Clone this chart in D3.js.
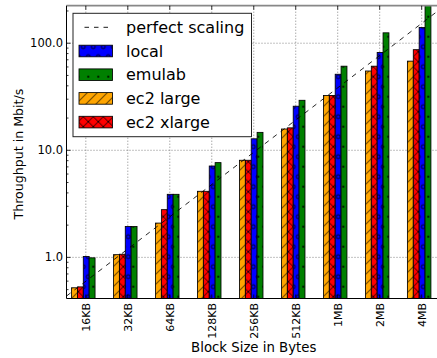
<!DOCTYPE html>
<html><head><meta charset="utf-8">
<script src="https://cdn.jsdelivr.net/npm/d3@7"></script>
<style>body{margin:0;background:#fff} svg{display:block}</style>
</head><body>
<svg id="chart" width="437" height="358"></svg>
<script>
// Throughput per block size for each environment (Mbit/s)
const categories = ["16KB","32KB","64KB","128KB","256KB","512KB","1MB","2MB","4MB"];
const ec2Large  = [0.52, 1.06, 2.09, 4.14, 8.07, 15.8, 32.5, 55.0, 68.0];
const ec2XLarge = [0.53, 1.07, 2.79, 4.14, 8.07, 16.2, 32.5, 61.0, 87.0];
const local     = [1.02, 1.94, 3.88, 7.13, 12.8, 25.8, 51.3, 82.0, 140.0];
const emulab    = [0.99, 1.94, 3.88, 7.67, 14.7, 29.3, 61.0, 125.0, 230.0];
const perfect   = [0.5, 1, 2, 4, 8, 16, 32, 64, 128];
const yTicks = [1, 10, 100];
const yTickLabels = ["1.0", "10.0", "100.0"];

const svg = d3.select("#chart");
const W = 437, H = 358;
const m = {left: 66.5, right: 441, top: 5.7, bottom: 298.5};
const FONT = "DejaVu Sans, Bitstream Vera Sans, sans-serif";

const x = d3.scaleLinear().domain([-0.46, categories.length - 1 + 0.46]).range([m.left, m.right]);
const y = d3.scaleLog().domain([0.413, 224]).range([m.bottom, m.top]);
const barW = 0.14;

// hatch patterns
const defs = svg.append("defs");
const hx = 3.3, hy = 6.7;
function linePattern(id, color, cross) {
  const p = defs.append("pattern").attr("id", id).attr("patternUnits", "userSpaceOnUse")
    .attr("width", 10).attr("height", 10).attr("patternTransform", `translate(${hx},${hy})`);
  p.append("rect").attr("width", 10).attr("height", 10).attr("fill", color);
  let d = "M-1,11 L11,-1 M-6,6 L6,-6 M4,16 L16,4";
  if (cross) d += " M-1,-1 L11,11 M-6,4 L6,16 M4,-6 L16,6";
  p.append("path").attr("d", d).attr("stroke", "#000").attr("stroke-width", 0.85).attr("fill", "none");
}
function dotPattern(id, color, r, filled) {
  const p = defs.append("pattern").attr("id", id).attr("patternUnits", "userSpaceOnUse")
    .attr("width", 10).attr("height", 20).attr("patternTransform", `translate(${hx},${hy})`);
  p.append("rect").attr("width", 10).attr("height", 20).attr("fill", color);
  [[0,0],[10,0],[0,20],[10,20],[5,10]].forEach(([cx, cy]) => {
    p.append("circle").attr("cx", cx).attr("cy", cy).attr("r", r)
      .attr("fill", filled ? "#000" : "none").attr("stroke", "#000").attr("stroke-width", filled ? 0 : 0.85);
  });
}
linePattern("h-large", "#ffa500", false);
linePattern("h-xlarge", "#ff0000", true);
dotPattern("h-local", "#0000ff", 2, false);
dotPattern("h-emulab", "#008000", 1.1, true);

defs.append("clipPath").attr("id", "plot-clip").append("rect")
  .attr("x", m.left).attr("y", m.top).attr("width", m.right - m.left).attr("height", m.bottom - m.top);

const series = [
  {name: "ec2 large",  values: ec2Large,  fill: "url(#h-large)",  off: -0.34},
  {name: "ec2 xlarge", values: ec2XLarge, fill: "url(#h-xlarge)", off: -0.20},
  {name: "local",      values: local,     fill: "url(#h-local)",  off: -0.06},
  {name: "emulab",     values: emulab,    fill: "url(#h-emulab)", off: 0.08}
];

// grid
const grid = svg.append("g").attr("stroke", "#777").attr("stroke-width", 0.9).attr("stroke-dasharray", "1,2");
categories.forEach((c, i) => {
  grid.append("line").attr("x1", x(i)).attr("x2", x(i)).attr("y1", m.top).attr("y2", m.bottom);
});
yTicks.forEach(v => {
  grid.append("line").attr("x1", m.left).attr("x2", m.right).attr("y1", y(v)).attr("y2", y(v));
});

// bars
const plot = svg.append("g").attr("clip-path", "url(#plot-clip)");
series.forEach(s => {
  plot.selectAll(null).data(s.values).join("rect")
    .attr("x", (d, i) => x(i + s.off))
    .attr("width", x(barW) - x(0))
    .attr("y", d => y(d))
    .attr("height", d => m.bottom - y(d))
    .attr("fill", s.fill)
    .attr("stroke", "#000").attr("stroke-width", 0.85);
});

// perfect scaling reference line (extended to the plot edges)
const pOff = -0.26;
const pts = perfect.map((v, i) => [i + pOff, v]);
const slope = Math.log(perfect[1] / perfect[0]);
const ext = (xi) => {
  const [x0, v0] = pts[0];
  return [xi, v0 * Math.exp(slope * (xi - x0))];
};
const linePts = [ext(x.domain()[0]), ...pts, ext(x.domain()[1])];
plot.append("path")
  .attr("d", d3.line().x(d => x(d[0])).y(d => y(d[1]))(linePts))
  .attr("fill", "none").attr("stroke", "#000").attr("stroke-width", 0.85)
  .attr("stroke-dasharray", "5,5");

// frame
svg.append("line").attr("x1", m.left).attr("x2", m.right).attr("y1", m.top).attr("y2", m.top)
  .attr("stroke", "#888").attr("stroke-width", 1.8);
svg.append("line").attr("x1", m.left).attr("x2", m.right).attr("y1", m.bottom).attr("y2", m.bottom)
  .attr("stroke", "#000").attr("stroke-width", 1);
svg.append("line").attr("x1", m.left).attr("x2", m.left).attr("y1", m.top).attr("y2", m.bottom)
  .attr("stroke", "#000").attr("stroke-width", 1);

// ticks (inside)
const ticks = svg.append("g").attr("stroke", "#000").attr("stroke-width", 0.8);
categories.forEach((c, i) => {
  ticks.append("line").attr("x1", x(i)).attr("x2", x(i)).attr("y1", m.bottom).attr("y2", m.bottom - 4);
  ticks.append("line").attr("x1", x(i)).attr("x2", x(i)).attr("y1", m.top).attr("y2", m.top + 4);
});
const [ylo, yhi] = y.domain();
for (let k = -1; k <= 3; k++) {
  for (let mm = 1; mm <= 9; mm++) {
    const v = mm * Math.pow(10, k);
    if (v < ylo || v > yhi) continue;
    const len = mm === 1 ? 4 : 2;
    ticks.append("line").attr("x1", m.left).attr("x2", m.left + len).attr("y1", y(v)).attr("y2", y(v));
  }
}

// tick labels
svg.append("g").selectAll("text").data(yTicks).join("text")
  .attr("x", m.left - 3.5).attr("y", d => y(d)).attr("dy", "0.35em")
  .attr("text-anchor", "end").attr("font-family", FONT).attr("font-size", 11.5).attr("fill", "#000")
  .text((d, i) => yTickLabels[i]);

svg.append("g").selectAll("text").data(categories).join("text")
  .attr("transform", (d, i) => `translate(${x(i)},${m.bottom + 4.5}) rotate(-90)`)
  .attr("dy", "0.35em").attr("text-anchor", "end")
  .attr("font-family", FONT).attr("font-size", 11).attr("fill", "#000")
  .text(d => d);

// axis titles
svg.append("text").attr("x", (m.left + m.right) / 2).attr("y", 351.5)
  .attr("text-anchor", "middle").attr("font-family", FONT).attr("font-size", 13.3).attr("fill", "#000")
  .text("Block Size in Bytes");
svg.append("text").attr("transform", `translate(22.5,${(m.top + m.bottom) / 2 + 2}) rotate(-90)`)
  .attr("text-anchor", "middle").attr("font-family", FONT).attr("font-size", 12.6).attr("fill", "#000")
  .text("Throughput in Mbit/s");

// legend
const lg = svg.append("g");
lg.append("rect").attr("x", 73).attr("y", 13.3).attr("width", 178.5).attr("height", 123.4)
  .attr("fill", "#fff").attr("stroke", "#222").attr("stroke-width", 1);
const legendItems = [
  {name: "perfect scaling", type: "line"},
  {name: "local", fill: "url(#h-local)"},
  {name: "emulab", fill: "url(#h-emulab)"},
  {name: "ec2 large", fill: "url(#h-large)"},
  {name: "ec2 xlarge", fill: "url(#h-xlarge)"}
];
legendItems.forEach((it, i) => {
  const cy = 27.3 + i * 23.7;
  if (it.type === "line") {
    lg.append("line").attr("x1", 84.5).attr("x2", 108.5).attr("y1", cy).attr("y2", cy)
      .attr("stroke", "#000").attr("stroke-width", 0.9).attr("stroke-dasharray", "4.5,5");
  } else {
    lg.append("rect").attr("x", 79).attr("y", cy - 5.8).attr("width", 33.5).attr("height", 11.6)
      .attr("fill", it.fill).attr("stroke", "#000").attr("stroke-width", 0.85);
  }
  lg.append("text").attr("x", 126).attr("y", cy).attr("dy", "0.36em")
    .attr("font-family", FONT).attr("font-size", 16).attr("fill", "#000").text(it.name);
});
</script>
</body></html>
